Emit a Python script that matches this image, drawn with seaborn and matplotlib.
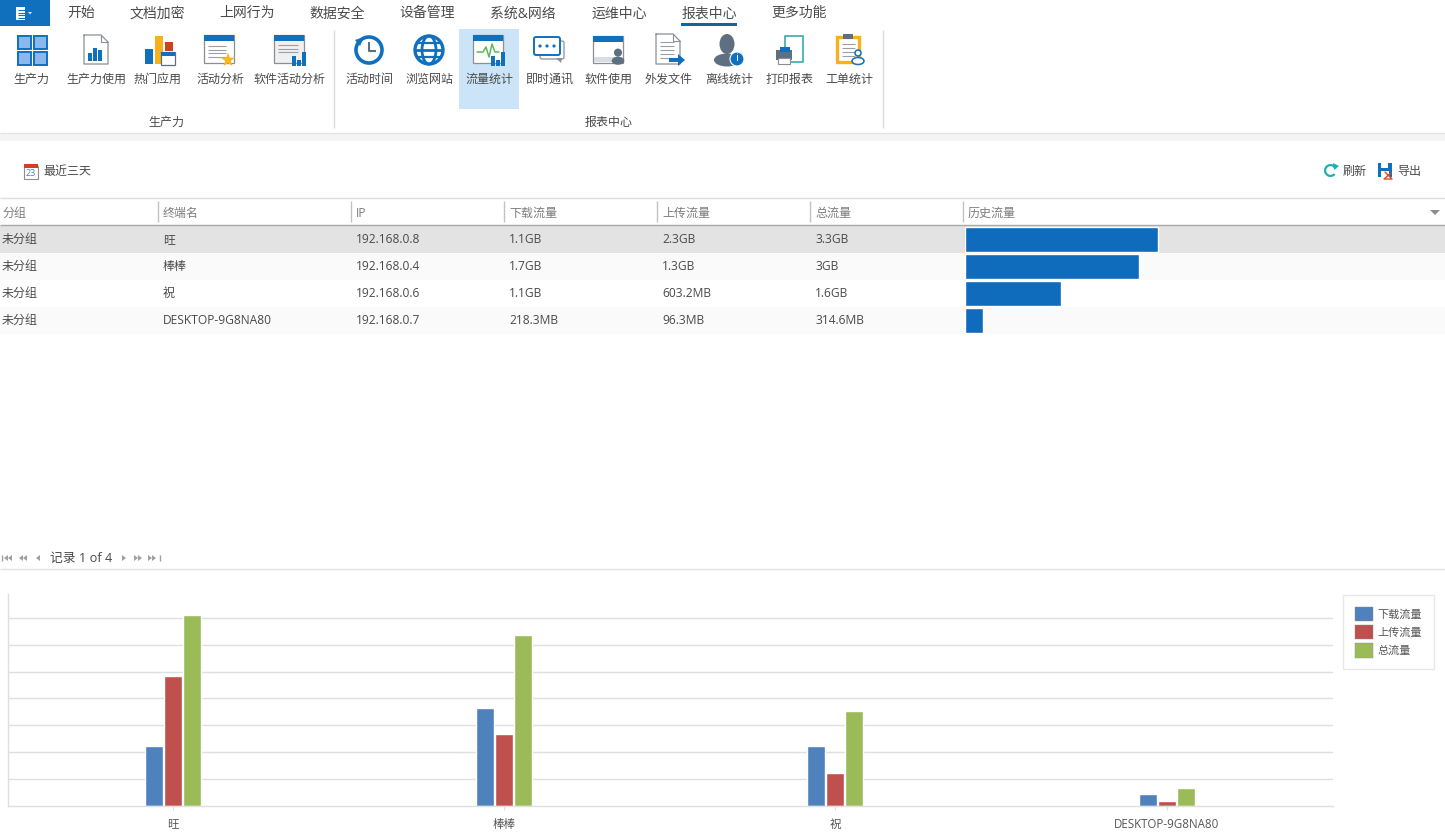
import numpy as np
import pandas as pd
import matplotlib
matplotlib.use("Agg")
import matplotlib.pyplot as plt
from matplotlib.patches import Rectangle, Circle, Polygon, Ellipse, FancyBboxPatch, Wedge
import seaborn as sns

# ---------- data ----------
terminals = ["旺", "棒棒", "祝", "DESKTOP-9G8NA80"]
series_names = ["下载流量", "上传流量", "总流量"]
download_gb = [1.05, 1.71, 1.05, 0.21]
upload_gb = [2.27, 1.26, 0.58, 0.09]
total_gb = [3.33, 2.99, 1.65, 0.31]
ips = ["192.168.0.8", "192.168.0.4", "192.168.0.6", "192.168.0.7"]
download_txt = ["1.1GB", "1.7GB", "1.1GB", "218.3MB"]
upload_txt = ["2.3GB", "1.3GB", "603.2MB", "96.3MB"]
total_txt = ["3.3GB", "3GB", "1.6GB", "314.6MB"]
group_txt = ["未分组", "未分组", "未分组", "未分组"]
headers = ["分组", "终端名", "IP", "下载流量", "上传流量", "总流量", "历史流量"]
tabs = ["开始", "文档加密", "上网行为", "数据安全", "设备管理", "系统&网络", "运维中心", "报表中心", "更多功能"]
ribbon_labels = ["生产力", "生产力使用", "热门应用", "活动分析", "软件活动分析", "活动时间", "浏览网站",
                 "流量统计", "即时通讯", "软件使用", "外发文件", "离线统计", "打印报表", "工单统计"]
palette = ["#4f81bd", "#c0504d", "#9bbb59"]

sns.set_theme(style="white")
plt.rcParams["font.family"] = ["Open Sans", "Noto Sans CJK SC", "DejaVu Sans"]

W, H = 1445, 835
fig = plt.figure(figsize=(W / 100, H / 100), dpi=100, facecolor="white")

def px_axes(x0, y0, x1, y1, **kw):
    return fig.add_axes([x0 / W, 1 - y1 / H, (x1 - x0) / W, (y1 - y0) / H], **kw)

ui = px_axes(0, 0, W, H)
ui.set_xlim(0, W); ui.set_ylim(H, 0); ui.axis("off")

BLUE = "#1070c0"; SLATE = "#5f6f82"; GREY = "#8a8f96"; TXT = "#4a4a4a"

def rect(x0, y0, x1, y1, fc="none", ec="none", lw=1, z=2):
    ui.add_patch(Rectangle((x0, y0), x1 - x0, y1 - y0, fc=fc, ec=ec, lw=lw, zorder=z))
def line(xs, ys, c="#dddddd", lw=1, z=2):
    ui.plot(xs, ys, color=c, lw=lw, zorder=z, solid_capstyle="butt")
def txt(x, y, s, size=8.64, c=TXT, ha="left"):
    ui.text(x, y + 0.8, s, fontsize=size, color=c, ha=ha, va="center", zorder=5)
def poly(pts, fc, z=3):
    ui.add_patch(Polygon(pts, closed=True, fc=fc, ec="none", zorder=z))
def circ(x, y, r, fc="none", ec="none", lw=1, z=3):
    ui.add_patch(Circle((x, y), r, fc=fc, ec=ec, lw=lw, zorder=z))
def window(x0, y0, x1, y1, top=BLUE, body="white"):
    rect(x0, y0, x1, y1, fc=body, ec=GREY, lw=0.9, z=3)
    rect(x0, y0, x1, y0 + 6, fc=top, z=3)
def doc(x0, y0, x1, y1, ec=GREY):
    poly([(x0, y0), (x1 - 7, y0), (x1, y0 + 7), (x1, y1), (x0, y1)], "white", z=3)
    ui.plot([x0, x1 - 7, x1, x1, x0, x0], [y0, y0, y0 + 7, y1, y1, y0], color=ec, lw=0.9, zorder=3)
    ui.plot([x1 - 7, x1 - 7, x1], [y0, y0 + 7, y0 + 7], color=ec, lw=0.8, zorder=3)
def lines(x0, x1, ys, c="#9aa0a6"):
    for y in ys:
        line([x0, x1], [y, y], c=c, lw=0.8, z=4)
def minibars(x0, base, hs, w=4, gap=1, c=BLUE):
    for i, h in enumerate(hs):
        rect(x0 + i * (w + gap), base - h, x0 + i * (w + gap) + w, base, fc=c, z=4)
def person(x, y, s=1.0, c=SLATE):
    circ(x, y - 6 * s, 4.5 * s, fc=c, z=4)
    ui.add_patch(Ellipse((x, y + 3 * s), 14 * s, 9 * s, fc=c, ec="none", zorder=4))

# ---------- ribbon ----------
rect(0, 0, 50, 26, fc="#1070bd")
rect(16, 7, 25, 20, fc="white", z=3)
lines(18, 25, [10, 12.5, 15, 17.5], c="#1070bd")
poly([(28, 12), (32, 12), (30, 14.5)], "#cfe2f3")
tab_x = [81, 157, 247, 337, 427, 523, 619, 709, 799]
for x, s in zip(tab_x, tabs):
    txt(x, 13, s, size=10, ha="center")
rect(681, 23, 737, 25.5, fc="#1264a3")
rect(459, 29, 519, 109, fc="#cce4f7", z=1)
icon_x = [31, 96, 158, 220, 290, 369, 429, 489, 549, 609, 669, 729, 789, 849]
for x, s in zip(icon_x, ribbon_labels):
    txt(x, 78.5, s, ha="center")
txt(166, 122, "生产力", ha="center")
txt(609, 122, "报表中心", ha="center")
line([334, 334], [30, 128], c="#dcdcdc")
line([883, 883], [30, 128], c="#dcdcdc")
rect(0, 133, W, 141, fc="#f4f4f4")
line([0, W], [133, 133], c="#e3e3e3")

# icons
for x, y in [(17, 35), (33, 35), (17, 51), (33, 51)]:
    rect(x + 0.7, y + 0.7, x + 14.3, y + 14.3, fc="#8ab8ec", ec=BLUE, lw=1.4, z=3)
doc(84, 35, 108, 64)
minibars(88, 61, [8, 13, 11])
rect(145, 49, 153, 64, fc=BLUE, z=3)
rect(155, 36, 163, 64, fc="#f5b21a", z=3)
rect(165, 42, 173, 51, fc="#d0421b", z=3)
rect(161, 52, 175, 65, fc="white", ec=SLATE, lw=0.9, z=4)
rect(161, 52, 175, 56, fc=BLUE, z=4)
window(204, 35, 234, 63)
lines(208, 226, [46, 49.5, 53, 56.5])
star = [(228 + (7.5 if i % 2 == 0 else 3) * np.sin(i * np.pi / 5),
         60 - (7.5 if i % 2 == 0 else 3) * np.cos(i * np.pi / 5)) for i in range(10)]
poly(star, "#fbb81c", z=5)
window(274, 35, 304, 63, body="#f0f0f0")
lines(278, 298, [45, 48.5, 52])
minibars(292, 66, [10, 6, 14])
circ(369, 50, 13, ec=BLUE, lw=2.6)
poly([(355, 40), (364, 37), (360, 46)], BLUE, z=4)
line([369, 369, 376], [42, 51, 51], c=SLATE, lw=1.5, z=4)
circ(429, 50, 14, ec=BLUE, lw=2.4)
ui.add_patch(Ellipse((429, 50), 14, 28, fc="none", ec=BLUE, lw=2, zorder=3))
line([415, 443], [50, 50], c=BLUE, lw=2)
line([417, 441], [43, 43], c=BLUE, lw=1.6)
line([417, 441], [57, 57], c=BLUE, lw=1.6)
window(473, 35, 503, 63)
ui.plot([477, 483, 486, 489, 492, 495, 499], [52, 52, 47, 57, 44, 52, 52], color="#5cb85c", lw=1.1, zorder=4)
minibars(491, 66, [10, 6, 14])
ui.add_patch(FancyBboxPatch((542, 43), 20, 14, boxstyle="round,pad=2", fc="white", ec=GREY, lw=0.9, zorder=3))
poly([(556, 58), (562, 58), (561, 63)], GREY, z=3)
ui.add_patch(FancyBboxPatch((536, 39), 22, 14, boxstyle="round,pad=2", fc="white", ec=BLUE, lw=1.4, zorder=3))
for dx in (540, 547, 554):
    circ(dx, 46, 1.6, fc=BLUE, z=4)
window(593, 36, 623, 63)
rect(594, 57, 622, 62, fc="#d9dde1", z=3)
person(618, 58, 0.9)
doc(656, 34, 680, 64)
lines(660, 674, [42, 46, 50, 54, 58])
poly([(669, 58), (678, 58), (678, 54), (685, 60), (678, 66), (678, 62), (669, 62)], BLUE, z=5)
ui.add_patch(Ellipse((727, 44), 15, 20, fc=SLATE, ec="none", zorder=3))
ui.add_patch(Ellipse((727, 60), 26, 13, fc=SLATE, ec="none", zorder=3))
circ(737, 59, 7, fc=BLUE, ec="white", lw=0.8, z=4)
txt(737, 58, "i", size=8, c="white", ha="center")
rect(785, 36, 803, 62, fc="white", ec="#3aa9b0", lw=1.2, z=3)
rect(776, 50, 792, 60, fc=SLATE, z=4)
rect(780, 47, 790, 52, fc=BLUE, z=4)
rect(778, 58, 790, 64, fc="white", ec=GREY, lw=0.8, z=4)
rect(837, 37, 859, 62, fc="white", ec="#f5b21a", lw=2.4, z=3)
rect(843, 34, 853, 39, fc=SLATE, z=4)
lines(842, 855, [44, 48, 52, 56])
circ(858, 53, 3, fc="white", ec=BLUE, lw=1.1, z=5)
ui.add_patch(Ellipse((858, 61), 12, 7, fc="white", ec=BLUE, lw=1.1, zorder=5))

# ---------- toolbar ----------
rect(24, 166, 38, 179, fc="white", ec=GREY, lw=0.8)
rect(24, 164, 38, 168, fc="#d0421b", z=3)
txt(31, 172.5, "23", size=6.5, c="#4f81bd", ha="center")
txt(43, 170.5, "最近三天")
ui.add_patch(Wedge((1330.5, 170.5), 6.5, 40, 340, width=2.2, fc="#18b0b0", ec="none", zorder=3))
poly([(1333, 163), (1339, 166), (1334, 170)], "#18b0b0", z=4)
txt(1343, 170.5, "刷新")
rect(1378, 163, 1392, 177, fc=BLUE, z=3)
rect(1381, 163, 1388, 168, fc="white", z=4)
rect(1381, 171, 1389, 177, fc="white", z=4)
ui.plot([1385, 1392, 1384, 1391], [172, 179, 179, 173], color="#d4502a", lw=1, zorder=5)
txt(1397, 170.5, "导出")

# ---------- table ----------
line([0, W], [198, 198], c="#dedede")
line([0, W], [225, 225], c="#a8a8a8")
col_x = [158, 351, 504, 657, 810, 963]
for x in col_x:
    line([x, x], [201, 222], c="#c2c2c2")
head_x = [2, 163, 356, 509, 662, 815, 968]
for x, s in zip(head_x, headers):
    txt(x, 212.5, s, c="#7d7d7d")
poly([(1430, 210), (1440, 210), (1435, 215)], "#8c8c8c")
row_top = [226, 253, 280, 307]
row_col = ["#e3e3e3", "#fafafa", "#ffffff", "#fafafa"]
for i, (y, c) in enumerate(zip(row_top, row_col)):
    rect(0, y, W, y + 27, fc=c, z=1)
    yc = y + 13
    txt(2, yc, group_txt[i])
    txt(163, yc, terminals[i])
    txt(356, yc, ips[i])
    txt(509, yc, download_txt[i])
    txt(662, yc, upload_txt[i])
    txt(815, yc, total_txt[i])

hist = px_axes(965.4, 226, W, 334)
hist.patch.set_alpha(0)
sns.barplot(x=total_gb, y=terminals, orient="h", color="#0f6cbd", saturation=1, width=0.93, ax=hist)
hist.set_xlim(0, (W - 965.4) / 57.9)
hist.set_ylim(3.5, -0.5)
hist.axis("off")

# ---------- pager ----------
gc = "#a0a0a0"
def tri(x, d=-1):
    poly([(x, 558), (x - d * 4, 555), (x - d * 4, 561)], gc)
for x in (4, 8):
    tri(x)
line([2, 2], [555, 561], c=gc)
for x in (19, 23, 36):
    tri(x)
for x in (129, 141, 145, 155, 159):
    tri(x - 3, d=1)
line([160, 160], [555, 561], c=gc)
txt(50, 558, "记录 1 of 4", size=9.2)
line([0, W], [569, 569], c="#e3e3e3")

# ---------- chart ----------
PX_PER_GB = 57.3
GRID_PX = 26.9
long = pd.DataFrame({
    "终端名": terminals * 3,
    "类型": [n for n in series_names for _ in terminals],
    "流量": download_gb + upload_gb + total_gb,
})
ax = px_axes(8, 594, 1333, 806)
ax.patch.set_alpha(0)
sns.barplot(data=long, x="终端名", y="流量", hue="类型", order=terminals, hue_order=series_names,
            palette=palette, saturation=1, width=0.172, gap=0.05, ax=ax, legend=False)
ax.set_xlim(-0.498, 3.502)
ax.set_ylim(0, 212 / PX_PER_GB)
ax.set_yticks(np.arange(1, 8) * GRID_PX / PX_PER_GB)
ax.set_yticklabels([])
ax.yaxis.grid(True, color="#dfdfdf", lw=1)
ax.set_axisbelow(True)
ax.set_xlabel(""); ax.set_ylabel("")
ax.tick_params(axis="x", length=3, width=0.8, color="#dfdfdf", labelsize=8.3, labelcolor="#555555", pad=10.5, bottom=True)
for lab in ax.get_xticklabels():
    lab.set_verticalalignment("center")
ax.tick_params(axis="y", length=0)
for s in ("top", "right"):
    ax.spines[s].set_visible(False)
for s in ("left", "bottom"):
    ax.spines[s].set_color("#dfdfdf"); ax.spines[s].set_linewidth(1)

handles = [Rectangle((0, 0), 1, 1, fc=c, ec="#8f8f8f", lw=0.3) for c in palette]
leg = fig.legend(handles, series_names, loc="upper left",
                 bbox_to_anchor=(1343 / W, 1 - 595 / H), bbox_transform=fig.transFigure,
                 fontsize=8, frameon=True, fancybox=False, edgecolor="#e3e3e3", facecolor="white",
                 borderpad=1.05, handlelength=1.62, handleheight=1.6, labelspacing=0.36,
                 handletextpad=0.42, borderaxespad=0, labelcolor="#555555")
leg.get_frame().set_linewidth(1)

fig.savefig("out.png", dpi=100, facecolor="white")
